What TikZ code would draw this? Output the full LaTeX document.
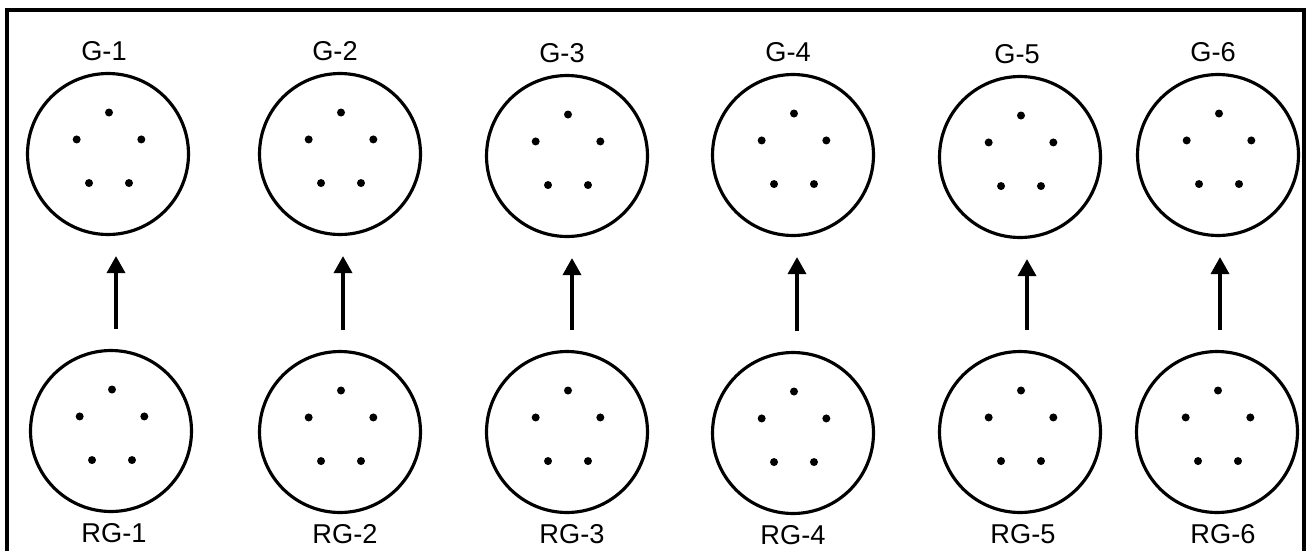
\documentclass[tikz,border=0pt]{standalone}
\usepackage{fontspec}
\setsansfont{Liberation Sans}
\usepackage{tikz}
\usetikzlibrary{positioning,arrows.meta}

\begin{document}
\begin{tikzpicture}[
			x=0.02cm, y=-0.02cm,
			node distance=0.22cm,
			font=\sffamily\fontsize{15.5pt}{18pt}\selectfont,
			% Define styles for the rings, labels and arrows
			ring/.style={circle, draw, line width=1.8pt, minimum size=3.22cm, inner sep=0pt,
				path picture={\foreach \a in {90,162,234,306,18}
					\fill ([shift={(0.02cm,0.05cm)}]path picture bounding box.center) ++(\a:0.68cm and 0.78cm) circle (0.08cm);}},
			tag/.style={inner sep=0pt},
			frame/.style={line width=2pt},
			arrow/.style={-{Triangle[width=0.36cm,length=0.34cm]}, line width=2pt, shorten <=0.4cm, shorten >=0.4cm}
			]
			\useasboundingbox (0,0) rectangle (1311,551);
			
			% --- Frame ---
			\draw[frame] (7,551) |- (1304,10) -- (1304,551);
			
			% --- Upper rings ---
			\node (g1) [ring] at (108,154) {};
			\node (g2) [ring] at (340,154) {};
			\node (g3) [ring] at (567,156) {};
			\node (g4) [ring] at (793,155) {};
			\node (g5) [ring] at (1020,157) {};
			\node (g6) [ring] at (1218,155) {};
			
			% --- Lower rings ---
			\node (rg1) [ring] at (111,431) {};
			\node (rg2) [ring] at (340,432) {};
			\node (rg3) [ring] at (567,432) {};
			\node (rg4) [ring] at (793,433) {};
			\node (rg5) [ring] at (1020,432) {};
			\node (rg6) [ring] at (1217,432) {};
			
			% --- Labels ---
			\node (g1lbl) [tag, above=of g1, xshift=-0.08cm] {G-1};
			\node (g2lbl) [tag, above=of g2, xshift=-0.1cm] {G-2};
			\node (g3lbl) [tag, above=of g3, xshift=-0.1cm] {G-3};
			\node (g4lbl) [tag, above=of g4, xshift=-0.1cm] {G-4};
			\node (g5lbl) [tag, above=of g5, xshift=-0.06cm] {G-5};
			\node (g6lbl) [tag, above=of g6, xshift=-0.1cm] {G-6};
			
			\node (rg1lbl) [tag, below=0.2cm of rg1, xshift=0.06cm] {RG-1};
			\node (rg2lbl) [tag, below=0.2cm of rg2, xshift=0.1cm] {RG-2};
			\node (rg3lbl) [tag, below=0.2cm of rg3, xshift=0.1cm] {RG-3};
			\node (rg4lbl) [tag, below=0.2cm of rg4] {RG-4};
			\node (rg5lbl) [tag, below=0.2cm of rg5, xshift=0.06cm] {RG-5};
			\node (rg6lbl) [tag, below=0.2cm of rg6, xshift=0.12cm] {RG-6};
			
			% --- Arrows ---
			\draw[arrow] ([xshift=0.1cm]rg1.north) -- ([xshift=0.1cm]rg1.north |- g1.south);
			\draw[arrow] ([xshift=0.06cm]rg2.north) -- ([xshift=0.06cm]rg2.north |- g2.south);
			\draw[arrow] ([xshift=0.1cm]rg3.north) -- ([xshift=0.1cm]rg3.north |- g3.south);
			\draw[arrow] ([xshift=0.08cm]rg4.north) -- ([xshift=0.08cm]rg4.north |- g4.south);
			\draw[arrow] ([xshift=0.14cm]rg5.north) -- ([xshift=0.14cm]rg5.north |- g5.south);
			\draw[arrow] ([xshift=0.06cm]rg6.north) -- ([xshift=0.06cm]rg6.north |- g6.south);
			
		\end{tikzpicture}
\end{document}
